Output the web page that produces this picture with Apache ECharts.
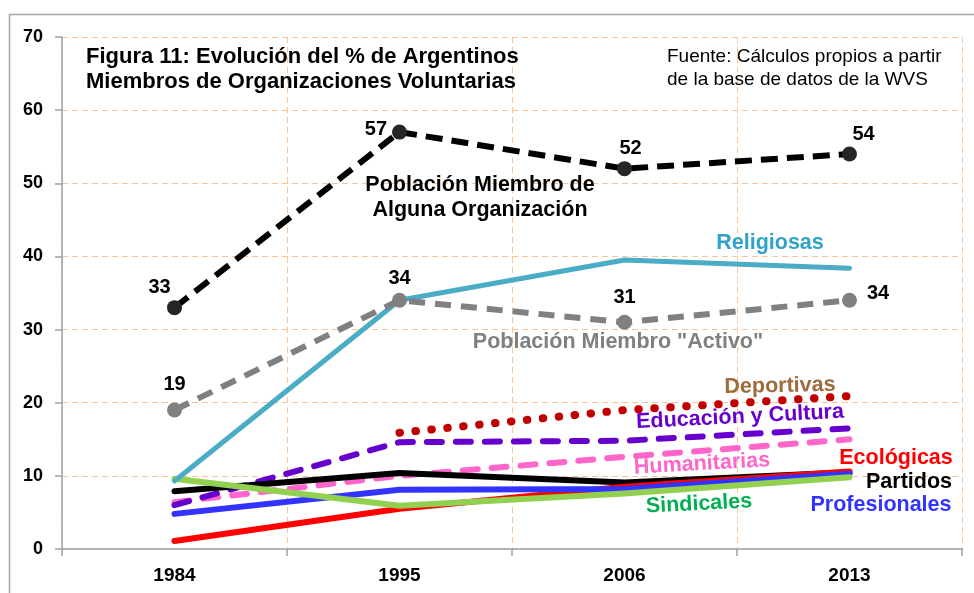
<!DOCTYPE html>
<html>
<head>
<meta charset="utf-8">
<script src="https://cdn.jsdelivr.net/npm/echarts@6/dist/echarts.min.js"></script>
<style>
html,body{margin:0;padding:0;background:#fff;}
#main{width:974px;height:593px;}
</style>
</head>
<body>
<div id="main"></div>
<script>
// años de la encuesta WVS
var years = ['1984', '1995', '2006', '2013'];

// % de argentinos miembros
var alguna = [33, 57, 52, 54];
var activo = [19, 34, 31, 34];
var religiosas = [9.3, 34, 39.5, 38.4];
var deportivas = [null, 15.9, 19, 20.9];
var educacion = [6.0, 14.6, 14.8, 16.5];
var humanitarias = [6.4, 10, 12.6, 15.0];
var partidos = [7.9, 10.4, 9.1, 10.5];
var ecologicas = [1.1, 5.5, 8.5, 10.6];
var profesionales = [4.8, 8.1, 8.2, 10.3];
var sindicales = [9.6, 5.9, 7.6, 9.8];

var yTicks = [0, 10, 20, 30, 40, 50, 60, 70];

var FONT = 'Liberation Sans, Arial, sans-serif';
var ANN = 21.5; // tamaño de las etiquetas de texto

// posicion de las etiquetas numericas (estilo)
var algunaLbl = [
	{position: 'top', offset: [-15, 2]},
	{position: 'left', offset: [0, -3]},
	{position: 'top', offset: [6, 2]},
	{position: 'top', offset: [14, 3]}
];
var activoLbl = [
	{position: 'top', offset: [0, -3]},
	{position: 'top', offset: [0, 1]},
	{position: 'top', offset: [0, -2]},
	{position: 'right', offset: [5, -7]}
];

function withLabels(vals, lbls){
	var out = [];
	for(var i=0;i<vals.length;i++){
		out.push({value: vals[i], label: lbls[i]});
	}
	return out;
}

function lineSeries(name, data, color, width, type, z){
	return {
		name: name,
		type: 'line',
		data: data,
		symbol: 'none',
		z: z,
		silent: true,
		connectNulls: false,
		lineStyle: {color: color, width: width, type: type, cap: 'round', join: 'round'}
	};
}

var chart = echarts.init(document.getElementById('main'));

function annot(text, x, y, color, rot){
	return {
		type: 'text',
		x: x, y: y,
		rotation: rot || 0,
		z: 100,
		style: {
			text: text,
			fill: color,
			font: 'bold ' + ANN + 'px ' + FONT,
			align: 'center',
			verticalAlign: 'middle',
			lineHeight: 25
		}
	};
}

var option = {
	animation: false,
	backgroundColor: '#fff',
	grid: {left: 62, right: 12, top: 37, bottom: 44},
	xAxis: {
		type: 'category',
		data: years,
		boundaryGap: true,
		axisLine: {lineStyle: {color: '#a0a0a0', width: 1.5}},
		axisTick: {show: true, length: 7, lineStyle: {color: '#a0a0a0', width: 1.5}},
		axisLabel: {color: '#000', fontSize: 19, fontWeight: 'bold', fontFamily: FONT, margin: 17},
		splitLine: {show: true, lineStyle: {color: '#fbc497', type: [6, 4], width: 1}}
	},
	yAxis: {
		type: 'value',
		min: 0, max: 70, interval: 10,
		axisLine: {show: true, lineStyle: {color: '#a0a0a0', width: 1.5}},
		axisTick: {show: true, length: 7, lineStyle: {color: '#a0a0a0', width: 1.5}},
		axisLabel: {color: '#000', fontSize: 18, fontWeight: 'bold', fontFamily: FONT, margin: 19,
			formatter: function(v){ return yTicks.indexOf(v) >= 0 ? String(v) : ''; }},
		splitLine: {show: true, lineStyle: {color: '#fbc497', type: [6, 4], width: 1}}
	},
	series: [
		lineSeries('Humanitarias', humanitarias, '#ff66cc', 6, [15, 14], 2),
		lineSeries('Educación y Cultura', educacion, '#6600cc', 6, [15, 14], 3),
		lineSeries('Deportivas', deportivas, '#c00000', 8, [0.5, 15.5], 3),
		lineSeries('Partidos', partidos, '#000000', 6, 'solid', 4),
		lineSeries('Ecológicas', ecologicas, '#ff0000', 6, 'solid', 5),
		lineSeries('Profesionales', profesionales, '#3333ff', 6, 'solid', 5),
		lineSeries('Sindicales', sindicales, '#92d050', 6, 'solid', 6),
		lineSeries('Religiosas', religiosas, '#4bacc6', 5, 'solid', 6),
		{
			name: 'Población Miembro "Activo"',
			type: 'line',
			data: withLabels(activo, activoLbl),
			symbol: 'circle',
			symbolSize: 15,
			z: 7,
			itemStyle: {color: '#808080'},
			lineStyle: {color: '#808080', width: 6, type: [16, 10]},
			label: {show: true, color: '#000', fontSize: 20, fontWeight: 'bold', fontFamily: FONT, distance: 5}
		},
		{
			name: 'Población Miembro de Alguna Organización',
			type: 'line',
			data: withLabels(alguna, algunaLbl),
			symbol: 'circle',
			symbolSize: 15,
			z: 8,
			itemStyle: {color: '#262626'},
			lineStyle: {color: '#000', width: 6, type: [17, 9]},
			label: {show: true, color: '#000', fontSize: 20, fontWeight: 'bold', fontFamily: FONT, distance: 5}
		}
	],
	graphic: [
		{
			type: 'rect', z: -10, silent: true,
			shape: {x: 9.5, y: 14.5, width: 1200, height: 1000},
			style: {fill: 'none', stroke: '#a6a6a6', lineWidth: 1.5}
		},
		{
			type: 'text', x: 86, y: 44, z: 100,
			style: {
				text: 'Figura 11: Evolución del % de Argentinos\nMiembros de Organizaciones Voluntarias',
				fill: '#000', font: 'bold 22px ' + FONT, lineHeight: 25
			}
		},
		{
			type: 'text', x: 667, y: 45, z: 100,
			style: {
				text: 'Fuente: Cálculos propios a partir\nde la base de datos de la WVS',
				fill: '#000', font: '19px ' + FONT, lineHeight: 23
			}
		},
		annot('Población Miembro de\nAlguna Organización', 480, 198, '#000'),
		annot('Religiosas', 770, 243, '#31a3c8'),
		annot('Población Miembro "Activo"', 618, 342, '#808080'),
		annot('Deportivas', 780, 386, '#9e6b3a', 0.02),
		annot('Educación y Cultura', 740, 417, '#6600cc', 0.05),
		annot('Humanitarias', 702, 464, '#ff66cc', 0.055),
		annot('Ecológicas', 896, 458, '#ff0000'),
		annot('Partidos', 909, 482, '#000'),
		annot('Profesionales', 881, 505, '#3333ff'),
		annot('Sindicales', 699, 504, '#00b050', 0.05)
	]
};

chart.setOption(option);
</script>
</body>
</html>
